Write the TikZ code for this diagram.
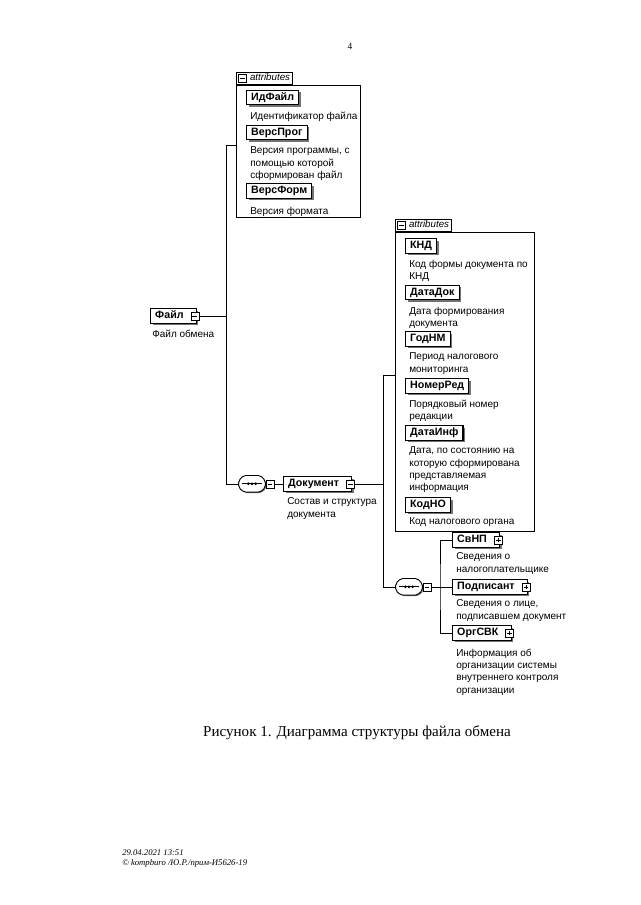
\documentclass[tikz,border=0pt]{standalone}
\usepackage{fontspec}
\setmainfont{Liberation Serif}
\newfontfamily\arial{Liberation Sans}
\usetikzlibrary{shadows,fit,calc}
\tikzset{
  conn/.style={line width=0.7pt},
  elem/.style={draw, fill=white, line width=0.85pt, font=\arial\bfseries\fontsize{8}{9}\selectfont,
    inner xsep=3.5pt, inner ysep=0pt, minimum height=11pt, text height=6pt, text depth=1.8pt, anchor=west,
    drop shadow={shadow xshift=1.5pt, shadow yshift=-1.5pt, fill=black!55, opacity=1}},
  desc/.style={font=\arial\fontsize{7.5}{9.3}\selectfont, align=left, anchor=north west, inner sep=0pt},
  icon/.style={draw, fill=white, line width=0.5pt, minimum size=6pt, inner sep=0pt},
  minusicon/.style={icon, path picture={\draw[line width=0.5pt] ([xshift=1.2pt]path picture bounding box.west) -- ([xshift=-1.2pt]path picture bounding box.east);}},
  plusicon/.style={icon, path picture={\draw[line width=0.5pt] ([xshift=1.2pt]path picture bounding box.west) -- ([xshift=-1.2pt]path picture bounding box.east);
      \draw[line width=0.5pt] ([yshift=1.2pt]path picture bounding box.south) -- ([yshift=-1.2pt]path picture bounding box.north);}},
  attrbox/.style={draw, line width=0.7pt, inner sep=0pt},
  tabbox/.style={draw, fill=white, line width=0.7pt, anchor=south west, font=\arial\itshape\fontsize{7.3}{8}\selectfont,
    inner xsep=2pt, inner ysep=0pt, minimum height=9pt, text height=5.6pt, text depth=1.6pt},
  seqbox/.style={minimum width=22pt, minimum height=14.5pt, inner sep=0pt,
    path picture={
      \begin{scope}[shift={(path picture bounding box.center)}, x=1pt, y=1pt]
        \fill[black!55, rounded corners=1.5pt] (-5.4,5.6) -- (5.6,5.6) -- (10.8,2) -- (10.8,-3.3) -- (6.8,-6.9) -- (-4.2,-6.9) -- (-9.4,-3.3) -- (-9.4,2) -- cycle;
        \filldraw[fill=white, line width=0.7pt, rounded corners=1.5pt] (-6.2,6.4) -- (6.2,6.4) -- (10,2.6) -- (10,-2.6) -- (6.2,-6.1) -- (-6.2,-6.1) -- (-10,-2.6) -- (-10,2.6) -- cycle;
        \draw[line width=0.5pt] (-7.7,0.15) -- (7.7,0.15);
        \foreach \d in {-2.7,0,2.7} \fill (\d,0.15) circle (1.1pt);
      \end{scope}}}
}
\begin{document}
\begin{tikzpicture}[x=0.75pt,y=-0.75pt]
\useasboundingbox (0,0) rectangle (640,905);
\fill[white] (0,0) rectangle (640,905);

% page number
\node[font=\fontsize{7}{8}\selectfont] (pg) at (350,46) {4};

% root element
\node[elem] (fail) at (150,316) {Файл\hspace*{6pt}};
\node[minusicon] (failicon) at ([xshift=-1.5pt]fail.east) {};
\node[desc] (dF) at (152,329.5) {Файл обмена};

% first attributes box
\coordinate (a1tl) at (236,85);
\coordinate (a1br) at (360,217);
\node[attrbox, fit=(a1tl)(a1br)] (attr1) {};
\node[tabbox] (tab1) at (attr1.north west) {\hspace*{8.5pt}attributes};
\node[minusicon, anchor=west] (tab1icon) at ([xshift=1.8pt]tab1.west) {};

\node[elem] (e11) at (246,97.5) {ИдФайл};
\node[desc] (d11) at (250,111.5) {Идентификатор файла};
\node[elem] (e12) at (246,132.5) {ВерсПрог};
\node[desc] (d12) at (250,146.5) {Версия программы, с\\помощью которой\\сформирован файл};
\node[elem] (e13) at (246,191) {ВерсФорм};
\node[desc] (d13) at (250,206.5) {Версия формата};

% sequence 1 and Документ
\node[seqbox] (seq1) at (252,484) {};
\node[minusicon, anchor=west] (seq1icon) at ([xshift=-1pt]seq1.east) {};
\node[elem] (doc) at (283,484) {Документ\hspace*{6pt}};
\node[minusicon] (docicon) at ([xshift=-1.5pt]doc.east) {};
\node[desc] (dD) at (287,497.5) {Состав и структура\\документа};

% second attributes box
\coordinate (a2tl) at (395,232);
\coordinate (a2br) at (534,531);
\node[attrbox, fit=(a2tl)(a2br)] (attr2) {};
\node[tabbox] (tab2) at (attr2.north west) {\hspace*{8.5pt}attributes};
\node[minusicon, anchor=west] (tab2icon) at ([xshift=1.8pt]tab2.west) {};

\node[elem] (e21) at (405,246) {КНД};
\node[desc] (d21) at (409,259.5) {Код формы документа по\\КНД};
\node[elem] (e22) at (405,292.5) {ДатаДок};
\node[desc] (d22) at (409,306.5) {Дата формирования\\документа};
\node[elem] (e23) at (405,339) {ГодНМ};
\node[desc] (d23) at (409,352.5) {Период налогового\\мониторинга};
\node[elem] (e24) at (405,386) {НомерРед};
\node[desc] (d24) at (409,399.5) {Порядковый номер\\редакции};
\node[elem] (e25) at (405,433) {ДатаИнф};
\node[desc] (d25) at (409,446.5) {Дата, по состоянию на\\которую сформирована\\представляемая\\информация};
\node[elem] (e26) at (405,505) {КодНО};
\node[desc] (d26) at (409,517.5) {Код налогового органа};

% sequence 2 and children
\node[seqbox] (seq2) at (409,587) {};
\node[minusicon, anchor=west] (seq2icon) at ([xshift=-1pt]seq2.east) {};

\node[elem] (c1) at (452,540) {СвНП\hspace*{6pt}};
\node[plusicon] (c1icon) at ([xshift=-1.5pt]c1.east) {};
\node[desc] (d31) at (456,552.5) {Сведения о\\налогоплательщике};
\node[elem] (c2) at (452,587) {Подписант\hspace*{6pt}};
\node[plusicon] (c2icon) at ([xshift=-1.5pt]c2.east) {};
\node[desc] (d32) at (456,599.5) {Сведения о лице,\\подписавшем документ};
\node[elem] (c3) at (452,633) {ОргСВК\hspace*{6pt}};
\node[plusicon] (c3icon) at ([xshift=-1.5pt]c3.east) {};
\node[desc] (d33) at (456,648.5) {Информация об\\организации системы\\внутреннего контроля\\организации};

% connectors
\coordinate (s1t) at (226,145);
\coordinate (s1b) at (226,484);
\draw[conn] (s1t -| attr1.west) -- (s1t) -- (s1b) -- ([xshift=0.7pt]seq1.west);
\draw[conn] (failicon.east) -- (failicon.east -| s1t);
\draw[conn] (seq1icon.east) -- (doc.west);

\coordinate (s2t) at (383,375);
\coordinate (s2b) at (383,587);
\draw[conn] (s2t -| attr2.west) -- (s2t) -- (s2b) -- ([xshift=0.7pt]seq2.west);
\draw[conn] (docicon.east) -- (docicon.east -| s2t);

\coordinate (s3m) at (440,587);
\draw[conn] (c1.west) -| (s3m) |- (c3.west);
\draw[conn] (seq2icon.east) -- (c2.west);

% caption and footer
\node[font=\fontsize{11.3}{13}\selectfont] (cap) at (357,733) {Рисунок 1. Диаграмма структуры файла обмена};
\node[anchor=west, align=left, font=\itshape\fontsize{6.5}{7.5}\selectfont, inner sep=0pt] (foot) at (122,859)
  {29.04.2021 13:51\\© kompburo /Ю.Р./прим-И5626-19};
\end{tikzpicture}
\end{document}
